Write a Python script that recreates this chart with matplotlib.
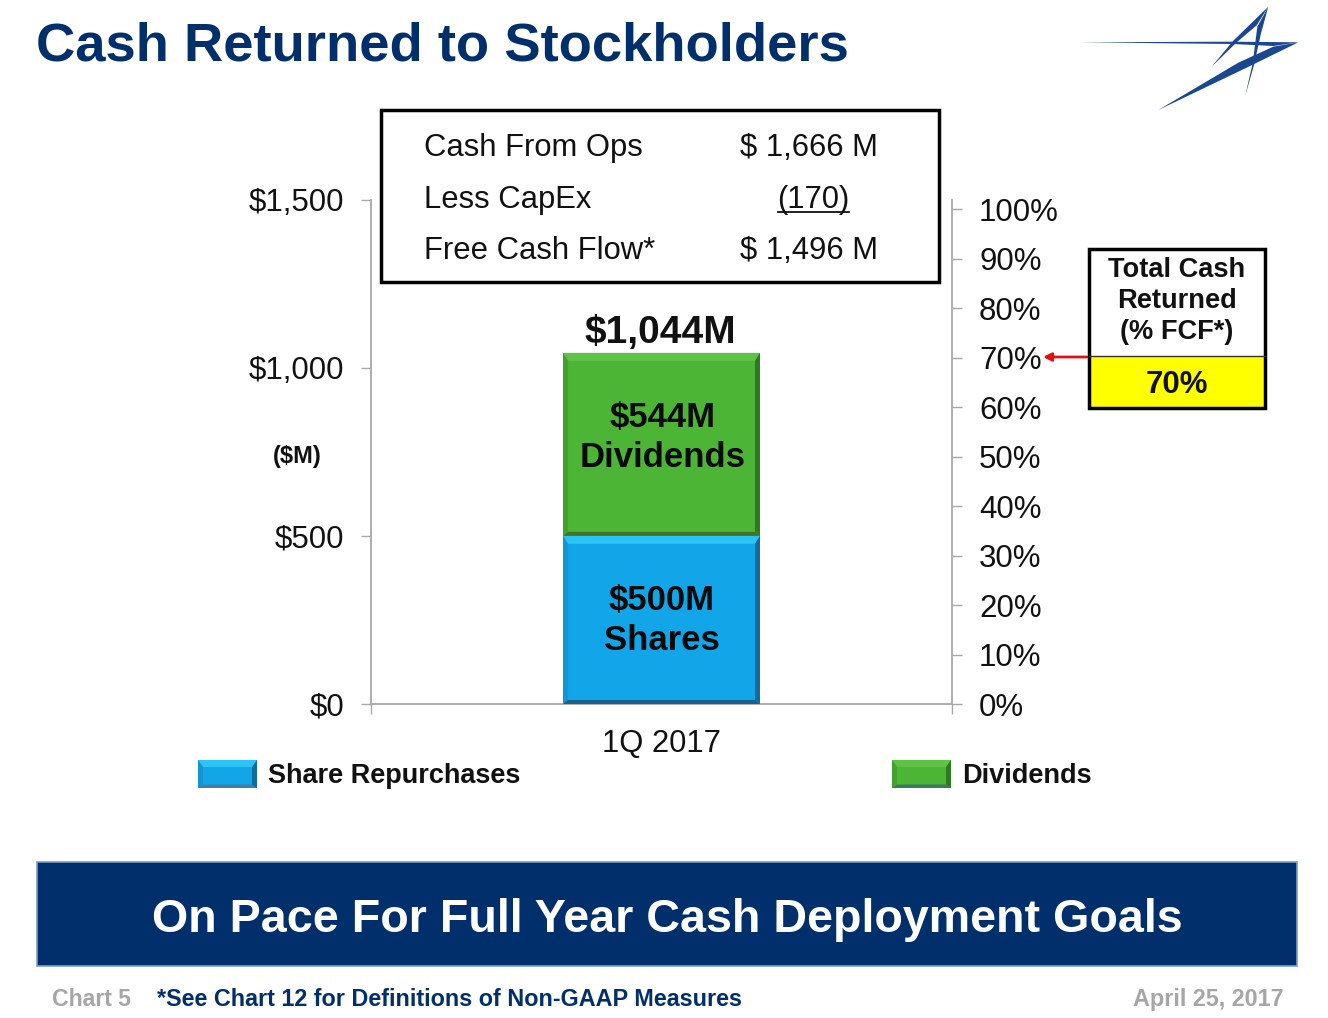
import matplotlib
matplotlib.use('Agg')
import matplotlib.pyplot as plt
from matplotlib.patches import Polygon, Rectangle

plt.rcParams['font.family'] = ['Liberation Sans', 'DejaVu Sans']

W, H = 1328, 1018
NAVY = '#002f6c'

# chart values
quarter = '1Q 2017'
shares = 500
dividends = 544
total = shares + dividends
dollar_ticks = [0, 500, 1000, 1500]
pct_ticks = [0, 10, 20, 30, 40, 50, 60, 70, 80, 90, 100]
fcf_rows = ['Cash From Ops', 'Less CapEx', 'Free Cash Flow*']
fcf_values = ['$ 1,666 M', '(170)', '$ 1,496 M']
pct_returned = 70


def px_axes(fig, x0, y0, x1, y1):
    """Axes placed using pixel positions measured from the top left."""
    return fig.add_axes([x0 / W, 1 - y1 / H, (x1 - x0) / W, (y1 - y0) / H])


def bevel(ov, x0, y0, x1, y1, face, top, left, right, bottom, bx=5, by=8):
    """Draw a bevelled block on the pixel overlay."""
    ov.add_patch(Rectangle((x0, y0), x1 - x0, y1 - y0, fc=face, ec='none'))
    ov.add_patch(Polygon([(x0, y0), (x1, y0), (x1 - bx, y0 + by), (x0 + bx, y0 + by)], fc=top, ec='none'))
    ov.add_patch(Polygon([(x0, y1), (x1, y1), (x1 - bx, y1 - by / 2), (x0 + bx, y1 - by / 2)], fc=bottom, ec='none'))
    ov.add_patch(Polygon([(x0, y0), (x0 + bx, y0 + by), (x0 + bx, y1 - by / 2), (x0, y1)], fc=left, ec='none'))
    ov.add_patch(Polygon([(x1, y0), (x1 - bx, y0 + by), (x1 - bx, y1 - by / 2), (x1, y1)], fc=right, ec='none'))


fig = plt.figure(figsize=(W / 100, H / 100), dpi=100, facecolor='white')

# main chart
ax = px_axes(fig, 371, 199.5, 952, 704)
ax.set_xlim(0, 1)
ax.set_ylim(0, 1500)
bar_w = 0.339
ax.bar([0.5], [shares], width=bar_w, color='#12a5e8', linewidth=0)
ax.bar([0.5], [dividends], bottom=[shares], width=bar_w, color='#4db535', linewidth=0)
for s in ['top', 'right']:
    ax.spines[s].set_visible(False)
for s in ['left', 'bottom']:
    ax.spines[s].set_color('#a8a8a8')
    ax.spines[s].set_linewidth(1.3)
ax.set_yticks(dollar_ticks)
ax.set_yticklabels([f'${v:,}' for v in dollar_ticks], fontsize=22.5, color='#111111')
ax.tick_params(axis='y', length=7, width=1, color='#a8a8a8', pad=12)
ax.set_xticks([0.5])
ax.set_xticklabels([quarter], fontsize=22.3, color='#111111')
ax.tick_params(axis='x', which='major', length=0, pad=18)
ax.set_xticks([0, 1], minor=True)
ax.tick_params(axis='x', which='minor', length=7, width=1, color='#a8a8a8')

ax2 = ax.twinx()
ax2.set_ylim(0, 102)
for s in ['top', 'left', 'bottom']:
    ax2.spines[s].set_visible(False)
ax2.spines['right'].set_color('#a8a8a8')
ax2.spines['right'].set_linewidth(1.3)
ax2.set_yticks(pct_ticks)
ax2.set_yticklabels([f'{v}%' for v in pct_ticks], fontsize=22.5, color='#111111')
ax2.tick_params(axis='y', length=7, width=1, color='#a8a8a8', pad=12.5, direction='out')

fig.canvas.draw()

# overlay in image pixels for the slide furniture
ov = fig.add_axes([0, 0, 1, 1], zorder=5)
ov.set_xlim(0, W)
ov.set_ylim(H, 0)
ov.axis('off')
ov.patch.set_alpha(0)


def to_px(x, y):
    dx, dy = ax.transData.transform((x, y))
    return dx, H - dy


# bevels follow the bars
bx0, by_s = to_px(0.5 - bar_w / 2, shares)
bx1, by_0 = to_px(0.5 + bar_w / 2, 0)
_, by_t = to_px(0.5, total)
BLUE = ('#12a5e8', '#2cc3f6', '#1394d4', '#0f6c9c', '#17618c')
GREEN = ('#4db535', '#5fc146', '#43a02e', '#2f7a20', '#3f7429')
bevel(ov, bx0, by_s, bx1, by_0, *BLUE)
bevel(ov, bx0, by_t, bx1, by_s, *GREEN)

ov.text(660, 333, f'${total:,}M', fontsize=28, fontweight='bold', ha='center', va='center', color='#111111')
ov.text(663, 437.5, f'${dividends}M\nDividends', fontsize=25, fontweight='bold', ha='center', va='center',
        color='#0a0a0a', linespacing=1.28)
ov.text(662, 620.5, f'${shares}M\nShares', fontsize=25, fontweight='bold', ha='center', va='center',
        color='#0a0a0a', linespacing=1.28)
ov.text(297, 457, '($M)', fontsize=17, fontweight='bold', ha='center', va='center', color='#111111')

# title
ov.text(36, 46, 'Cash Returned to Stockholders', fontsize=39.2, fontweight='bold', color=NAVY, ha='left', va='center')

# logo
logo_blades = [
    [(55, 127), (520, 125), (715, 127), (640, 138), (520, 132)],
    [(715, 127), (560, 203), (295, 330), (535, 188), (640, 140)],
    [(625, 20), (592, 80), (578, 190), (555, 290), (582, 195), (603, 100)],
    [(625, 20), (520, 122), (455, 200), (530, 127), (590, 76)],
]
for blade in logo_blades:
    ov.add_patch(Polygon([(1060 + x / 3, y / 3) for x, y in blade], fc='#1a4790', ec='none'))

# free cash flow box
ov.add_patch(Rectangle((381, 110), 558, 172, fc='white', ec='black', lw=2.5, zorder=6))
row_y = [148, 200, 251]
for label, val, y in zip(fcf_rows, fcf_values, row_y):
    ov.text(424, y, label, fontsize=22.3, ha='left', va='center', color='#111111', zorder=7)
    ov.text(809 if val != '(170)' else 813, y, val, fontsize=22.3, ha='center', va='center', color='#111111', zorder=7)
ov.plot([778, 849], [212, 212], color='#111111', lw=1.3, zorder=7)

# total cash returned box
ov.add_patch(Rectangle((1089, 249), 176, 107, fc='white', ec='none', zorder=6))
ov.add_patch(Rectangle((1089, 356), 176, 52, fc='#ffff00', ec='none', zorder=6))
ov.add_patch(Rectangle((1089, 249), 176, 159, fc='none', ec='black', lw=2.5, zorder=7))
ov.plot([1089, 1265], [356, 356], color='#333333', lw=1, zorder=7)
ov.text(1177, 301, 'Total Cash\nReturned\n(% FCF*)', fontsize=19.6, fontweight='bold', ha='center', va='center',
        color='#111111', linespacing=1.27, zorder=8)
ov.text(1177, 385, f'{pct_returned}%', fontsize=22.5, fontweight='bold', ha='center', va='center',
        color='#111111', zorder=8)
ov.annotate('', xy=(1043, 357), xytext=(1087, 357),
            arrowprops=dict(arrowstyle='-|>', color='#e01010', lw=2, mutation_scale=12, shrinkA=0, shrinkB=0))

# legend
bevel(ov, 198, 760, 257, 788, '#12a5e8', '#2cc3f6', '#1394d4', '#0f6c9c', '#3f7fa8', bx=5, by=7)
ov.text(268, 776, 'Share Repurchases', fontsize=19.5, fontweight='bold', ha='left', va='center', color='#111111')
bevel(ov, 892, 760, 951, 788, '#4db535', '#5fc146', '#43a02e', '#2f7a20', '#3a7a60', bx=5, by=7)
ov.text(962, 776, 'Dividends', fontsize=19.5, fontweight='bold', ha='left', va='center', color='#111111')

# banner
ov.add_patch(Rectangle((37, 862), 1260, 104, fc=NAVY, ec='#7f9cc4', lw=1.2))
ov.text(667, 920, 'On Pace For Full Year Cash Deployment Goals', fontsize=33.6, fontweight='bold', color='white',
        ha='center', va='center')

# footer
ov.text(52, 999.5, 'Chart 5', fontsize=16.6, fontweight='bold', color='#a6a6a6', ha='left', va='center')
ov.text(157, 999.5, '*See Chart 12 for Definitions of Non-GAAP Measures', fontsize=16.8, fontweight='bold',
        color=NAVY, ha='left', va='center')
ov.text(1284, 999.5, 'April 25, 2017', fontsize=16.8, fontweight='bold', color='#a6a6a6', ha='right', va='center')

fig.savefig('out.png', dpi=100)
